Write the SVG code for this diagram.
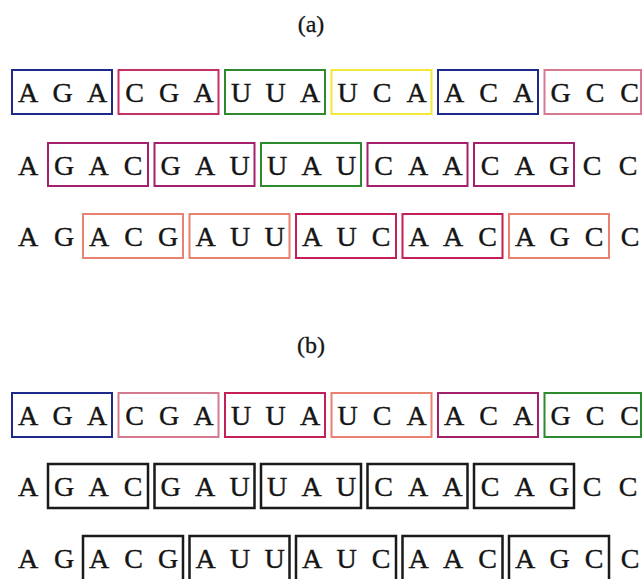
<svg xmlns="http://www.w3.org/2000/svg" width="642" height="579" viewBox="0 0 642 579">
  <style>
    .bg { fill: #ffffff; }
    .lbl { font-family: "Liberation Serif", "Times New Roman", serif; font-size: 24px; fill: #151515; stroke: #151515; stroke-width: 0.3; text-anchor: middle; }
    .nt { font-family: "Liberation Serif", "Times New Roman", serif; font-size: 28px; fill: #151515; stroke: #151515; stroke-width: 0.4; text-anchor: middle; }
    .box { fill: none; stroke-width: 2; }
    .blue { stroke: #1d2a8a; }
    .crim { stroke: #c62f66; }
    .green { stroke: #2e8a2e; }
    .yellow { stroke: #efe93a; }
    .pink { stroke: #d67a92; }
    .mag { stroke: #a2206c; }
    .salmon { stroke: #e8816f; }
    .red { stroke: #c51f58; }
    .black { stroke: #1a1a1a; stroke-width: 2.5; }
  </style>
  <rect class="bg" x="0" y="0" width="642" height="579"/>

  <!-- panel (a) -->
  <text class="lbl" x="311" y="32">(a)</text>

  <!-- reading frame 1 -->
  <g id="a1">
    <g id="a1-b1"><rect class="box blue" x="12" y="70" width="100" height="44"/>
      <text class="nt" x="28" y="102">A</text><text class="nt" x="62.5" y="102">G</text><text class="nt" x="97" y="102">A</text></g>
    <g id="a1-b2"><rect class="box crim" x="118.5" y="70" width="100" height="44"/>
      <text class="nt" x="134.5" y="102">C</text><text class="nt" x="169" y="102">G</text><text class="nt" x="203.5" y="102">A</text></g>
    <g id="a1-b3"><rect class="box green" x="225" y="70" width="100" height="44"/>
      <text class="nt" x="241" y="102">U</text><text class="nt" x="275.5" y="102">U</text><text class="nt" x="310" y="102">A</text></g>
    <g id="a1-b4"><rect class="box yellow" x="331.5" y="70" width="100" height="44"/>
      <text class="nt" x="347.5" y="102">U</text><text class="nt" x="382" y="102">C</text><text class="nt" x="416.5" y="102">A</text></g>
    <g id="a1-b5"><rect class="box blue" x="438" y="70" width="100" height="44"/>
      <text class="nt" x="454" y="102">A</text><text class="nt" x="488.5" y="102">C</text><text class="nt" x="523" y="102">A</text></g>
    <g id="a1-b6"><rect class="box pink" x="544.5" y="70" width="96.5" height="44"/>
      <text class="nt" x="560.5" y="102">G</text><text class="nt" x="595" y="102">C</text><text class="nt" x="629.5" y="102">C</text></g>
  </g>

  <!-- reading frame 2 -->
  <g id="a2">
    <text class="nt" x="28" y="175">A</text>
    <g id="a2-b1"><rect class="box mag" x="48" y="143" width="100" height="43"/>
      <text class="nt" x="64" y="175">G</text><text class="nt" x="98.5" y="175">A</text><text class="nt" x="133" y="175">C</text></g>
    <g id="a2-b2"><rect class="box mag" x="154.5" y="143" width="100" height="43"/>
      <text class="nt" x="170.5" y="175">G</text><text class="nt" x="205" y="175">A</text><text class="nt" x="239.5" y="175">U</text></g>
    <g id="a2-b3"><rect class="box green" x="261" y="143" width="100" height="43"/>
      <text class="nt" x="277" y="175">U</text><text class="nt" x="311.5" y="175">A</text><text class="nt" x="346" y="175">U</text></g>
    <g id="a2-b4"><rect class="box mag" x="367.5" y="143" width="100" height="43"/>
      <text class="nt" x="383.5" y="175">C</text><text class="nt" x="418" y="175">A</text><text class="nt" x="452.5" y="175">A</text></g>
    <g id="a2-b5"><rect class="box mag" x="474" y="143" width="100" height="43"/>
      <text class="nt" x="490" y="175">C</text><text class="nt" x="524.5" y="175">A</text><text class="nt" x="559" y="175">G</text></g>
    <text class="nt" x="592" y="175">C</text><text class="nt" x="628" y="175">C</text>
  </g>

  <!-- reading frame 3 -->
  <g id="a3">
    <text class="nt" x="28" y="246">A</text><text class="nt" x="64" y="246">G</text>
    <g id="a3-b1"><rect class="box salmon" x="83" y="214" width="100" height="44"/>
      <text class="nt" x="99" y="246">A</text><text class="nt" x="133.5" y="246">C</text><text class="nt" x="168" y="246">G</text></g>
    <g id="a3-b2"><rect class="box salmon" x="189.5" y="214" width="100" height="44"/>
      <text class="nt" x="205.5" y="246">A</text><text class="nt" x="240" y="246">U</text><text class="nt" x="274.5" y="246">U</text></g>
    <g id="a3-b3"><rect class="box red" x="296" y="214" width="100" height="44"/>
      <text class="nt" x="312" y="246">A</text><text class="nt" x="346.5" y="246">U</text><text class="nt" x="381" y="246">C</text></g>
    <g id="a3-b4"><rect class="box red" x="402.5" y="214" width="100" height="44"/>
      <text class="nt" x="418.5" y="246">A</text><text class="nt" x="453" y="246">A</text><text class="nt" x="487.5" y="246">C</text></g>
    <g id="a3-b5"><rect class="box salmon" x="509" y="214" width="100" height="44"/>
      <text class="nt" x="525" y="246">A</text><text class="nt" x="559.5" y="246">G</text><text class="nt" x="594" y="246">C</text></g>
    <text class="nt" x="630" y="246">C</text>
  </g>

  <!-- panel (b) -->
  <text class="lbl" x="311" y="353">(b)</text>

  <g id="b1">
    <g id="b1-b1"><rect class="box blue" x="12" y="393" width="100" height="44"/>
      <text class="nt" x="28" y="425">A</text><text class="nt" x="62.5" y="425">G</text><text class="nt" x="97" y="425">A</text></g>
    <g id="b1-b2"><rect class="box pink" x="118.5" y="393" width="100" height="44"/>
      <text class="nt" x="134.5" y="425">C</text><text class="nt" x="169" y="425">G</text><text class="nt" x="203.5" y="425">A</text></g>
    <g id="b1-b3"><rect class="box red" x="225" y="393" width="100" height="44"/>
      <text class="nt" x="241" y="425">U</text><text class="nt" x="275.5" y="425">U</text><text class="nt" x="310" y="425">A</text></g>
    <g id="b1-b4"><rect class="box salmon" x="331.5" y="393" width="100" height="44"/>
      <text class="nt" x="347.5" y="425">U</text><text class="nt" x="382" y="425">C</text><text class="nt" x="416.5" y="425">A</text></g>
    <g id="b1-b5"><rect class="box mag" x="438" y="393" width="100" height="44"/>
      <text class="nt" x="454" y="425">A</text><text class="nt" x="488.5" y="425">C</text><text class="nt" x="523" y="425">A</text></g>
    <g id="b1-b6"><rect class="box green" x="544.5" y="393" width="96.5" height="44"/>
      <text class="nt" x="560.5" y="425">G</text><text class="nt" x="595" y="425">C</text><text class="nt" x="629.5" y="425">C</text></g>
  </g>

  <g id="b2">
    <text class="nt" x="28" y="496">A</text>
    <g id="b2-b1"><rect class="box black" x="48" y="464" width="100" height="44"/>
      <text class="nt" x="64" y="496">G</text><text class="nt" x="98.5" y="496">A</text><text class="nt" x="133" y="496">C</text></g>
    <g id="b2-b2"><rect class="box black" x="154.5" y="464" width="100" height="44"/>
      <text class="nt" x="170.5" y="496">G</text><text class="nt" x="205" y="496">A</text><text class="nt" x="239.5" y="496">U</text></g>
    <g id="b2-b3"><rect class="box black" x="261" y="464" width="100" height="44"/>
      <text class="nt" x="277" y="496">U</text><text class="nt" x="311.5" y="496">A</text><text class="nt" x="346" y="496">U</text></g>
    <g id="b2-b4"><rect class="box black" x="367.5" y="464" width="100" height="44"/>
      <text class="nt" x="383.5" y="496">C</text><text class="nt" x="418" y="496">A</text><text class="nt" x="452.5" y="496">A</text></g>
    <g id="b2-b5"><rect class="box black" x="474" y="464" width="100" height="44"/>
      <text class="nt" x="490" y="496">C</text><text class="nt" x="524.5" y="496">A</text><text class="nt" x="559" y="496">G</text></g>
    <text class="nt" x="592" y="496">C</text><text class="nt" x="628" y="496">C</text>
  </g>

  <g id="b3">
    <text class="nt" x="28" y="568">A</text><text class="nt" x="64" y="568">G</text>
    <g id="b3-b1"><rect class="box black" x="83" y="536" width="100" height="48"/>
      <text class="nt" x="99" y="568">A</text><text class="nt" x="133.5" y="568">C</text><text class="nt" x="168" y="568">G</text></g>
    <g id="b3-b2"><rect class="box black" x="189.5" y="536" width="100" height="48"/>
      <text class="nt" x="205.5" y="568">A</text><text class="nt" x="240" y="568">U</text><text class="nt" x="274.5" y="568">U</text></g>
    <g id="b3-b3"><rect class="box black" x="296" y="536" width="100" height="48"/>
      <text class="nt" x="312" y="568">A</text><text class="nt" x="346.5" y="568">U</text><text class="nt" x="381" y="568">C</text></g>
    <g id="b3-b4"><rect class="box black" x="402.5" y="536" width="100" height="48"/>
      <text class="nt" x="418.5" y="568">A</text><text class="nt" x="453" y="568">A</text><text class="nt" x="487.5" y="568">C</text></g>
    <g id="b3-b5"><rect class="box black" x="509" y="536" width="100" height="48"/>
      <text class="nt" x="525" y="568">A</text><text class="nt" x="559.5" y="568">G</text><text class="nt" x="594" y="568">C</text></g>
    <text class="nt" x="630" y="568">C</text>
  </g>
</svg>
